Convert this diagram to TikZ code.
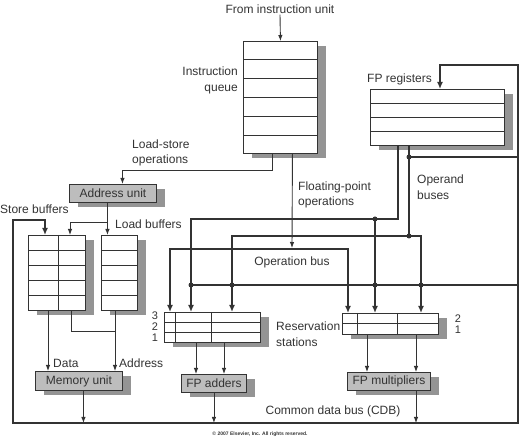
\documentclass[tikz,border=0pt]{standalone}
\usepackage{fontspec}
\setmainfont{Liberation Sans}
\usetikzlibrary{arrows.meta, positioning, calc, shadows}
\definecolor{ink}{gray}{0.2}
\definecolor{unitfill}{gray}{0.74}
\definecolor{shadegray}{gray}{0.58}

\begin{document}
\begin{tikzpicture}[
        x=1pt, y=-1pt,
        node distance=4pt,
        txt/.style={font=\fontsize{12}{15.5}\selectfont, text=ink, inner sep=1pt, align=left},
        digits/.style={txt, inner sep=0pt, align=center},
        regs/.style={rectangle, draw=ink, line width=0.9pt, fill=white, inner sep=0pt, anchor=north west,
            drop shadow={shadow xshift=9pt, shadow yshift=-5pt, fill=shadegray, opacity=1}},
        unit/.style={regs, fill=unitfill, minimum height=18pt, inner sep=3pt, text=ink, font=\fontsize{12}{14}\selectfont},
        wire/.style={draw=ink, line width=0.9pt},
        arrow/.style={wire, -{Latex[length=6pt, width=4.5pt]}},
        bus/.style={draw=ink, line width=2pt},
        busarrow/.style={bus, -{Latex[length=7pt, width=6pt]}},
        dot/.style={circle, fill=ink, inner sep=0pt, minimum size=5pt}
    ]
        \useasboundingbox (0,0) rectangle (520,438);

        % 1. Instruction queue
        \node (fromiu) [txt] at (280,9) {From instruction unit};
        \node (queue) [regs, minimum width=74pt, minimum height=112pt] at (243,41) {};
        \foreach \i in {1,...,5}
            \draw [wire] ($(queue.north west)!\i/6!(queue.south west)$) -- ($(queue.north east)!\i/6!(queue.south east)$);
        \node (qlabel) [txt, align=right, left=4pt of queue.west, yshift=17pt] {Instruction\\queue};

        % 2. FP registers
        \node (fpregs) [regs, minimum width=134pt, minimum height=56pt] at (370,89) {};
        \foreach \i in {1,2,3}
            \draw [wire] ($(fpregs.north west)!\i/4!(fpregs.south west)$) -- ($(fpregs.north east)!\i/4!(fpregs.south east)$);
        \node (fplabel) [txt, anchor=south west] at ([xshift=-4pt, yshift=3pt]fpregs.north west) {FP registers};

        % 3. Load/store side
        \node (addr) [unit, minimum width=87pt] at (69,184) {Address unit};
        \node (store) [regs, minimum width=57pt, minimum height=75pt] at (28,235) {};
        \node (load) [regs, minimum width=36pt, minimum height=75pt] at (101,235) {};
        \foreach \i in {1,...,4} {
            \draw [wire] ($(store.north west)!\i/5!(store.south west)$) -- ($(store.north east)!\i/5!(store.south east)$);
            \draw [wire] ($(load.north west)!\i/5!(load.south west)$) -- ($(load.north east)!\i/5!(load.south east)$);
        }
        \draw [wire] ([xshift=30pt]store.north west) -- ([xshift=30pt]store.south west);
        \node (mem) [unit, minimum width=87pt, minimum height=19pt] at (35,371) {Memory unit};

        \node (stlabel) [txt, anchor=west] at (-1,209) {Store buffers};
        \node (ldlabel) [txt, anchor=west] at (114,224) {Load buffers};
        \node (lslabel) [txt, anchor=west] at (131,153) {Load-store\\operations};
        \node (datalabel) [txt, anchor=west] at (52,363) {Data};
        \node (adlabel) [txt, anchor=west] at (118,363) {Address};

        % 4. Reservation stations and FP units
        \node (addrs) [regs, minimum width=96pt, minimum height=30pt] at (164,312) {};
        \foreach \i in {1,2}
            \draw [wire] ($(addrs.north west)!\i/3!(addrs.south west)$) -- ($(addrs.north east)!\i/3!(addrs.south east)$);
        \foreach \c in {11,47}
            \draw [wire] ([xshift=\c pt]addrs.north west) -- ([xshift=\c pt]addrs.south west);
        \node (multrs) [regs, minimum width=96pt, minimum height=21pt] at (342,313) {};
        \draw [wire] (multrs.west) -- (multrs.east);
        \foreach \c in {15,55}
            \draw [wire] ([xshift=\c pt]multrs.north west) -- ([xshift=\c pt]multrs.south west);
        \node (arows) [digits, font=\fontsize{11}{10.8}\selectfont] at ($(addrs.west)+(-9,-1)$) {3\\2\\1};
        \node (mrows) [digits, font=\fontsize{11}{10.8}\selectfont] at ($(multrs.east)+(19,0)$) {2\\1};
        \node (rslabel) [txt, anchor=west] at (275,334) {Reservation\\stations};

        \node (fpadd) [unit, minimum width=65pt] at (181,374) {FP adders};
        \node (fpmul) [unit, minimum width=83pt] at (347,372) {FP multipliers};

        % 5. Buses
        \coordinate (opbus) at (292,249);
        \coordinate (ob1) at (375,219);
        \coordinate (ob2) at (409,236);
        \coordinate (regtap) at (409,157);
        \coordinate (rstap) at (191,285);
        \coordinate (cdbL) at (13,423);
        \coordinate (cdbR) at (518,423);

        \node (fplabel2) [txt, anchor=west] at (297,195) {Floating-point\\operations};
        \node (oblabel) [txt, anchor=west] at (416,187) {Operand\\buses};
        \node (opbuslabel) [txt] at (292,262) {Operation bus};
        \node (cdblabel) [txt] at (333,411) {Common data bus (CDB)};

        % Connections
        \draw [arrow] (fromiu.south) -- (queue.north);
        \draw [arrow] ([xshift=-8pt]queue.south) -- ++(0,17) -| ([xshift=9.5pt]addr.north);
        \draw [arrow] ([xshift=12pt]queue.south) -- ([yshift=1pt]opbus);

        \draw [arrow] ([xshift=-5.5pt]addr.south) -- ([xshift=-5.5pt]addr.south |- load.north);
        \coordinate (abr) at ([xshift=-5.5pt, yshift=-20pt]addr.south);
        \draw [arrow] (abr) -| ([xshift=42pt]store.north west);

        \draw [arrow] ([xshift=20pt]store.south west) -- ([xshift=20pt]store.south west |- mem.north);
        \draw [wire] ([xshift=43pt]store.south west) |- ([xshift=14pt, yshift=-21pt]load.south west);
        \draw [arrow] ([xshift=14pt]load.south west) -- ([xshift=14pt]load.south west |- mem.north);
        \draw [arrow] ([xshift=4.5pt]mem.south) -- ([xshift=4.5pt]mem.south |- cdbL);

        % operation and operand buses
        \draw [bus, {Latex[length=7pt, width=6pt]}-{Latex[length=7pt, width=6pt]}]
            ([xshift=6pt]addrs.north west) |- (opbus) -| ([xshift=6pt]multrs.north west);
        \draw [busarrow] ([xshift=28pt]fpregs.south west) |- (ob1) -| ([xshift=27pt]addrs.north west);
        \draw [busarrow] (ob1) -- (ob1 |- multrs.north);
        \draw [busarrow] ([xshift=39pt]fpregs.south west) -- (ob2) -| ([xshift=68pt]addrs.north west);
        \draw [busarrow] (ob2) -| ([xshift=79pt]multrs.north west);

        % common data bus
        \draw [bus, {Latex[length=7pt, width=6pt]}-{Latex[length=7pt, width=6pt]}]
            ([xshift=17pt]store.north west) -- ++(0,-15) -| (cdbL) -- (cdbR) -- ++(0,-358) -| ([xshift=70pt]fpregs.north west);
        \draw [bus] (regtap) -- (regtap -| cdbR);
        \draw [bus] (rstap) -- (rstap -| cdbR);
        \node (dotob1) [dot] at (ob1) {};
        \node (dotob2) [dot] at (ob2) {};
        \node (dotreg) [dot] at (regtap) {};
        \foreach \x in {191,232,375,421}
            \node (tap\x) [dot] at (\x,285) {};

        % unit outputs
        \draw [arrow] ([xshift=32pt]addrs.south west) -- ([xshift=32pt]addrs.south west |- fpadd.north);
        \draw [arrow] ([xshift=60pt]addrs.south west) -- ([xshift=60pt]addrs.south west |- fpadd.north);
        \draw [arrow] (fpadd.south) -- (fpadd.south |- cdbL);
        \draw [arrow] ([xshift=25pt]multrs.south west) -- ([xshift=25pt]multrs.south west |- fpmul.north);
        \draw [arrow] ([xshift=74pt]multrs.south west) -- ([xshift=74pt]multrs.south west |- fpmul.north);
        \draw [arrow] ([xshift=69pt]fpmul.south west) -- ([xshift=69pt]fpmul.south west |- cdbL);

        \node (copy) [font=\fontsize{5}{6}\selectfont\bfseries, text=ink] at (260,434) {\textcopyright\ 2007 Elsevier, Inc. All rights reserved.};
    \end{tikzpicture}
\end{document}
